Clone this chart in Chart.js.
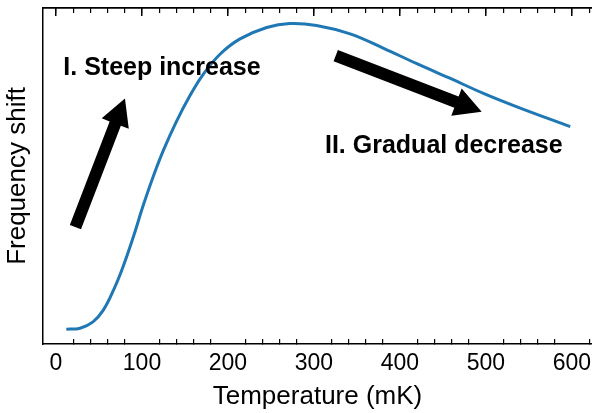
<!DOCTYPE html>
<html>
<head>
<meta charset="utf-8">
<script src="https://cdn.jsdelivr.net/npm/chart.js@4/dist/chart.umd.min.js"></script>
<style>
  html, body { margin: 0; padding: 0; background: #fff; }
  #wrap { width: 592px; height: 413px; }
</style>
</head>
<body>
<div id="wrap"><canvas id="freqChart"></canvas></div>
<script>
// temperature (mK) and frequency shift (arb. units)
const temperatures = [12, 28, 43, 55, 67, 78, 90, 101, 113, 125, 140, 156, 171, 191, 214, 245, 272, 303, 342, 381, 419, 458, 497, 536, 598];
const shifts = [4.4, 4.7, 6.6, 10.1, 16.1, 23.0, 31.9, 40.9, 49.8, 57.7, 66.2, 74.0, 80.2, 86.3, 90.8, 94.2, 95.4, 94.8, 92.3, 88.0, 83.5, 79.1, 74.6, 70.6, 64.7];
const xTickLabels = [0, 100, 200, 300, 400, 500, 600];

// annotations in data units: [tailT, tailShift, tipT, tipShift]
const arrows = [
  [22.6, 34.8, 80.2, 73.1],
  [325.3, 85.8, 495, 69.1]
];
const labels = [
  { text: 'I. Steep increase', t: 8.5, v: 80.1 },
  { text: 'II. Gradual decrease', t: 312.8, v: 56.9 }
];

const FONT = "'Liberation Sans', Arial, Helvetica, sans-serif";

const annotate = {
  id: 'annotate',
  afterDatasetsDraw(chart) {
    const c = chart.ctx, xs = chart.scales.x, ys = chart.scales.y;
    c.save();
    c.fillStyle = '#000';
    arrows.forEach(a => {
      const x0 = xs.getPixelForValue(a[0]), y0 = ys.getPixelForValue(a[1]);
      const x1 = xs.getPixelForValue(a[2]), y1 = ys.getPixelForValue(a[3]);
      const len = Math.hypot(x1 - x0, y1 - y0);
      const ang = Math.atan2(y1 - y0, x1 - x0);
      const sw = 6, hw = 14.5, hl = 27;
      c.save();
      c.translate(x0, y0);
      c.rotate(ang);
      c.beginPath();
      c.moveTo(0, -sw);
      c.lineTo(len - hl, -sw);
      c.lineTo(len - hl, -hw);
      c.lineTo(len, 0);
      c.lineTo(len - hl, hw);
      c.lineTo(len - hl, sw);
      c.lineTo(0, sw);
      c.closePath();
      c.fill();
      c.restore();
    });
    c.font = 'bold 25px ' + FONT;
    c.textBaseline = 'alphabetic';
    c.textAlign = 'left';
    labels.forEach(l => {
      c.fillText(l.text, xs.getPixelForValue(l.t), ys.getPixelForValue(l.v));
    });
    c.restore();
  }
};

const xMin = -15.1, xMax = 623.3;
const noSidePad = s => { s.paddingLeft = 0; s.paddingRight = 0; };

new Chart(document.getElementById('freqChart'), {
  type: 'line',
  data: {
    datasets: [{
      data: temperatures.map((t, i) => ({ x: t, y: shifts[i] })),
      borderColor: '#1f77b4',
      borderWidth: 3,
      pointRadius: 0,
      tension: 0.4,
      fill: false
    }]
  },
  options: {
    responsive: true,
    maintainAspectRatio: false,
    animation: false,
    layout: { padding: { top: 8, left: 0, right: 0, bottom: 0 } },
    plugins: { legend: { display: false }, tooltip: { enabled: false } },
    scales: {
      x: {
        type: 'linear',
        position: 'bottom',
        min: xMin, max: xMax,
        afterBuildTicks: s => { s.ticks = []; for (let v = 0; v <= 620; v += 20) s.ticks.push({ value: v }); },
        ticks: {
          autoSkip: false,
          maxRotation: 0,
          color: '#000',
          font: { family: FONT, size: 23 },
          padding: 11,
          callback: v => xTickLabels.includes(v) ? String(v) : ''
        },
        grid: {
          drawOnChartArea: false,
          tickLength: -5,
          lineWidth: 1.2,
          color: c => (c.tick && c.tick.value % 100 === 0) ? 'rgba(0,0,0,0)' : '#000'
        },
        border: { display: true, color: '#000', width: 1.5 },
        title: {
          display: true,
          text: 'Temperature (mK)',
          color: '#000',
          font: { family: FONT, size: 26 },
          padding: { top: 0, bottom: 1 }
        },
        afterFit: s => { s.height = 69; noSidePad(s); }
      },
      xTopMinor: {
        type: 'linear',
        position: 'top',
        min: xMin, max: xMax,
        afterBuildTicks: s => { s.ticks = []; for (let v = 0; v <= 620; v += 20) s.ticks.push({ value: v }); },
        ticks: { display: false },
        grid: { drawOnChartArea: false, tickLength: -5, lineWidth: 1.2, color: '#000' },
        border: { display: true, color: '#000', width: 1.5 },
        afterFit: s => { s.height = 0; noSidePad(s); }
      },
      xTopMajor: {
        type: 'linear',
        position: 'top',
        min: xMin, max: xMax,
        afterBuildTicks: s => { s.ticks = xTickLabels.map(v => ({ value: v })); },
        ticks: { display: false },
        grid: { drawOnChartArea: false, tickLength: -8, lineWidth: 1.5, color: '#000' },
        border: { display: true, color: '#000', width: 1.5 },
        afterFit: s => { s.height = 0; noSidePad(s); }
      },
      y: {
        type: 'linear',
        min: 0, max: 100,
        ticks: { display: false },
        grid: { display: false },
        border: { display: true, color: '#000', width: 1.5 },
        title: {
          display: true,
          text: 'Frequency shift',
          color: '#000',
          font: { family: FONT, size: 26 },
          padding: { top: 2, bottom: 0 }
        },
        afterFit: s => { s.width = 43; }
      }
    }
  },
  plugins: [annotate]
});
</script>
</body>
</html>
